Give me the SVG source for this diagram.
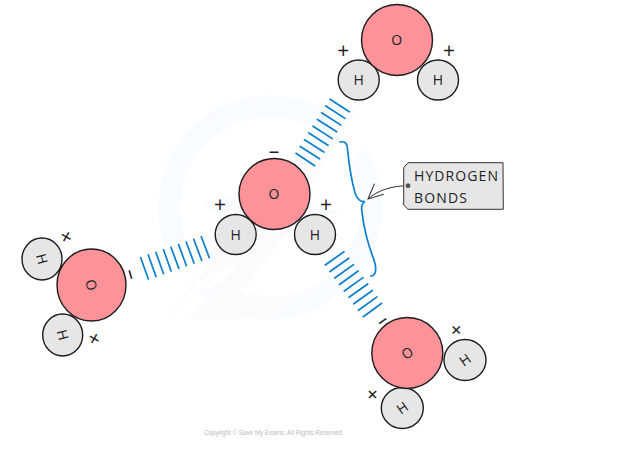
<svg xmlns="http://www.w3.org/2000/svg" width="629" height="452" viewBox="0 0 629 452">
<style>
.o{fill:#fd9299;stroke:#1c1c1c;stroke-width:1.4}
.h{fill:#e6e6e6;stroke:#1c1c1c;stroke-width:1.4}
text{font-family:"Open Sans","Liberation Sans",sans-serif;fill:#222;text-anchor:middle}
.a{font-size:14px}
.s{font-size:21px}
.bar{stroke:#0b7fcf;stroke-width:1.7;stroke-linecap:round;fill:none}
.wm{fill:none;stroke:#f9fcfe;stroke-width:22}
.wf{fill:#f9fbfd}
</style>
<defs>
<marker id="open" viewBox="0 0 18 18" refX="17" refY="9" markerWidth="18" markerHeight="18" markerUnits="userSpaceOnUse" orient="auto">
<path d="M2 2 L17 9 L2 16" fill="none" stroke="#333" stroke-width="1"/>
</marker>
</defs>
<rect width="629" height="452" fill="#fff"/>
<g id="watermark">
<path class="wm" d="M175 241.500 A101 101 0 0 1 335 130"/>
<path class="wm" d="M353 149 A101 101 0 0 1 205 284"/>
<polygon fill="#fff" points="165,330 240,250 375,85 395,110 300,230 190,300"/>
<polygon class="wf" points="202,205 268,183 362,100 300,205 343,210 285,235 240,293 283,297 300,300 270,318 188,320 240,262 192,283 165,325 216,255 236,222"/>
</g>
<g id="connectors">
<g class="bar">
<path d="M330 99.3L349.3 111.7M325.8 106L345 118.4M321.6 112.8L340.9 125.1M317.4 119.5L336.7 131.8M313 126.3L332.3 138.6M308.8 133L328 145.3M304.5 139.8L323.8 152M300.2 146.5L319.5 158.8M296 153.3L314.7 165.7"/>
<path d="M140.7 257.7L148.3 279M148.3 255L155.9 276.4M155.9 252.4L163.5 273.7M163.5 249.8L171.1 271M171 247.2L178.8 268.4M178.6 244.6L186.4 265.7M186.2 242L194 263M193.8 239.4L201.7 260.4M201.3 236.7L209.3 257.7"/>
<path d="M325.3 265L344 251.7M330 271.5L348.8 258.2M334.8 278L353.5 264.6M339.5 284.5L358.2 271M344.3 291L363 277.6M349 297.3L367.7 284M353.8 303.8L372.4 290.5M358.5 310.3L377 296.9M363.3 316.7L381.7 303.3"/>
</g>
<path class="bar" d="M340 142C345 141 347 143 347.500 149C349 165 352 182 355 193C357 199 360 202 365 201.700C361.500 203 361 206 362 212C364 230 369 247 374 260C377 269 376 276 370.700 276"/>
<path d="M408 185.700C392 186 378 190 368 199" fill="none" stroke="#333" stroke-width="1" marker-end="url(#open)"/>
</g>
<g id="label-hydrogen-bonds">
<polygon points="408,162.700 503,162.700 503.300,209.300 408,209.300 403.700,205 403.700,167.700" fill="#e6e6e6" stroke="#333" stroke-width="1"/>
<circle cx="408" cy="185.700" r="2" fill="#555" stroke="#222" stroke-width=".6"/>
<text class="a" x="414" y="181" style="text-anchor:start" textLength="84">HYDROGEN</text>
<text class="a" x="414" y="203" style="text-anchor:start" textLength="53">BONDS</text>
</g>
<g id="molecule-top">
<ellipse class="h" cx="358.700" cy="80" rx="20.500" ry="20"/>
<ellipse class="h" cx="438" cy="80" rx="20.500" ry="20"/>
<circle class="o" cx="397" cy="40" r="35.500"/>
<text class="a" x="396.700" y="45">O</text>
<text class="a" x="358.700" y="85">H</text>
<text class="a" x="438" y="85">H</text>
<text class="s" x="343.300" y="57.500">+</text>
<text class="s" x="449" y="57.500">+</text>
</g>
<g id="molecule-center">
<ellipse class="h" cx="235.700" cy="234.500" rx="20.500" ry="20"/>
<ellipse class="h" cx="315" cy="234.500" rx="20.500" ry="20"/>
<circle class="o" cx="274.500" cy="194" r="35.500"/>
<text class="a" x="274" y="199">O</text>
<text class="a" x="235.700" y="239.500">H</text>
<text class="a" x="315" y="239.500">H</text>
<text class="s" x="220" y="212">+</text>
<text class="s" x="326" y="212">+</text>
<text class="s" x="274" y="158">–</text>
</g>
<g id="molecule-left">
<ellipse class="h" cx="42" cy="259" rx="20" ry="21"/>
<ellipse class="h" cx="62.700" cy="335" rx="20" ry="21"/>
<ellipse class="o" cx="91.500" cy="285" rx="34.500" ry="36"/>
<text class="a" transform="translate(91.300 285) rotate(75)" y="5">O</text>
<text class="a" transform="translate(42 259) rotate(75)" y="5">H</text>
<text class="a" transform="translate(62.700 335) rotate(75)" y="5">H</text>
<text class="s" transform="translate(66 237.300) rotate(30)" y="7">+</text>
<text class="s" transform="translate(94 339) rotate(30)" y="7">+</text>
<text class="s" transform="translate(131.700 274) rotate(74)" y="7">–</text>
</g>
<g id="molecule-bottom">
<ellipse class="h" cx="465" cy="360" rx="21" ry="20.500"/>
<ellipse class="h" cx="402.300" cy="408" rx="21" ry="20.500"/>
<circle class="o" cx="407.300" cy="353" r="35.500"/>
<text class="a" transform="translate(407.300 353) rotate(-35)" y="5">O</text>
<text class="a" transform="translate(465 360) rotate(-35)" y="5">H</text>
<text class="a" transform="translate(402.300 408) rotate(-35)" y="5">H</text>
<text class="s" transform="translate(456 330.300) rotate(45)" y="7">+</text>
<text class="s" transform="translate(372.300 394.700) rotate(45)" y="7">+</text>
<text class="s" transform="translate(381.700 320) rotate(-35)" y="7">–</text>
</g>
<text x="273" y="435" style="font-size:6.500px;fill:#bdbdbd;font-family:'Liberation Sans',sans-serif" textLength="138">Copyright © Save My Exams. All Rights Reserved</text>
</svg>
